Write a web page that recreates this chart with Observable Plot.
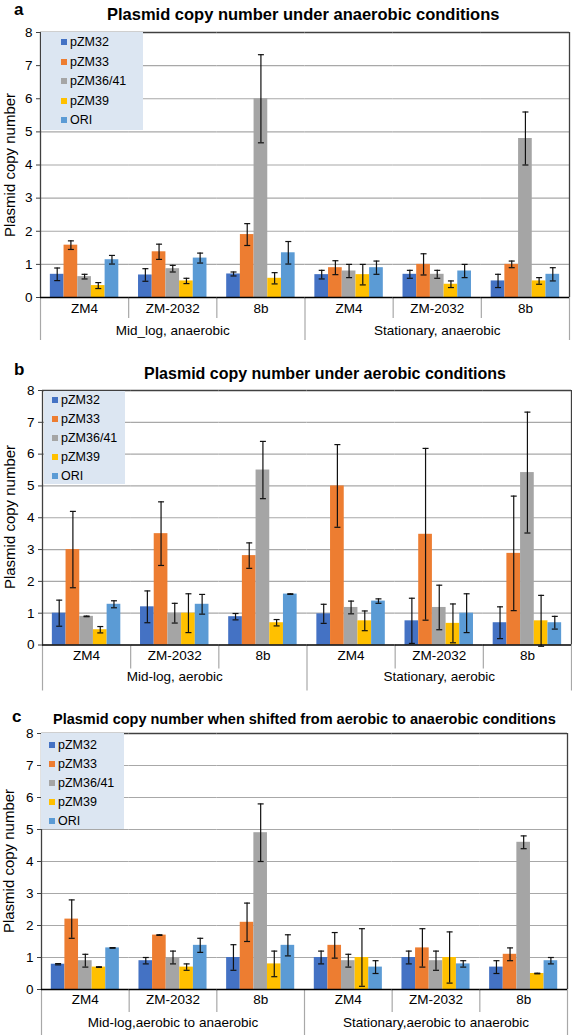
<!DOCTYPE html>
<html>
<head>
<meta charset="utf-8">
<script src="https://cdn.jsdelivr.net/npm/d3@7"></script>
<script src="https://cdn.jsdelivr.net/npm/@observablehq/plot@0.6"></script>
<style>
  body { margin: 0; background: #fff; }
  #root { position: relative; width: 572px; height: 1035px; overflow: hidden; font-family: 'Liberation Sans', Arial, Helvetica, sans-serif; color: #000; }
  .panel { position: absolute; left: 0; width: 572px; }
  .letter, .title { position: absolute; font-weight: bold; line-height: 1; white-space: nowrap; }
  .ylab { position: absolute; white-space: nowrap; line-height: 1; font-size: 15px; transform: translate(-50%, -50%) rotate(-90deg); }
  .legend { position: absolute; background: #dce6f2; }
  .legend .item { position: absolute; display: flex; align-items: center; white-space: nowrap; }
  .legend .sw { width: 6px; height: 6px; margin-right: 3px; }
  svg { position: absolute; left: 0; top: 0; }
</style>
</head>
<body>
<div id="root"></div>
<script>
// ---------- data ----------
const series = ["pZM32", "pZM33", "pZM36/41", "pZM39", "ORI"];
const strains = ["ZM4", "ZM-2032", "8b"];
const seriesColors = ["#4472c4", "#ed7d31", "#a5a5a5", "#ffc000", "#5b9bd5"];
const yTicks = [0, 1, 2, 3, 4, 5, 6, 7, 8];
const gridTicks = [1, 2, 3, 4, 5, 6, 7];
const yLabel = "Plasmid copy number";

const titleA = "Plasmid copy number under anaerobic conditions";
const groupsA = ["Mid_log, anaerobic", "Stationary, anaerobic"];
// rows: Mid ZM4, Mid ZM-2032, Mid 8b, Stat ZM4, Stat ZM-2032, Stat 8b ; columns: series
const meansA = [
  [0.70, 1.58, 0.63, 0.36, 1.14],
  [0.68, 1.38, 0.87, 0.50, 1.19],
  [0.71, 1.90, 6.00, 0.58, 1.35],
  [0.69, 0.90, 0.80, 0.69, 0.90],
  [0.70, 1.00, 0.70, 0.40, 0.80],
  [0.50, 1.00, 4.80, 0.50, 0.70]
];
const errorsA = [
  [0.19, 0.13, 0.07, 0.09, 0.13],
  [0.19, 0.23, 0.10, 0.08, 0.15],
  [0.06, 0.33, 1.33, 0.17, 0.34],
  [0.13, 0.21, 0.20, 0.31, 0.20],
  [0.12, 0.32, 0.12, 0.10, 0.20],
  [0.20, 0.10, 0.80, 0.10, 0.20]
];

const titleB = "Plasmid copy number under aerobic conditions";
const groupsB = ["Mid-log, aerobic", "Stationary, aerobic"];
const meansB = [
  [1.00, 3.00, 0.90, 0.48, 1.28],
  [1.20, 3.50, 1.00, 1.00, 1.28],
  [0.89, 2.81, 5.50, 0.70, 1.60],
  [0.98, 5.00, 1.18, 0.76, 1.38],
  [0.76, 3.48, 1.18, 0.68, 1.00],
  [0.70, 2.88, 5.42, 0.76, 0.70]
];
const errorsB = [
  [0.41, 1.20, 0.01, 0.10, 0.11],
  [0.50, 1.00, 0.31, 0.61, 0.31],
  [0.10, 0.40, 0.90, 0.10, 0.01],
  [0.30, 1.30, 0.20, 0.31, 0.07],
  [0.71, 2.70, 0.70, 0.61, 0.61],
  [0.50, 1.80, 1.90, 0.80, 0.20]
];

const titleC = "Plasmid copy number when shifted from aerobic to anaerobic conditions";
const groupsC = ["Mid-log,aerobic to anaerobic", "Stationary,aerobic to anaerobic"];
const meansC = [
  [0.79, 2.20, 0.90, 0.70, 1.30],
  [0.90, 1.70, 1.00, 0.70, 1.38],
  [1.00, 2.10, 4.90, 0.80, 1.38],
  [1.00, 1.38, 0.90, 1.00, 0.70],
  [1.00, 1.30, 0.90, 1.00, 0.80],
  [0.70, 1.10, 4.60, 0.50, 0.90]
];
const errorsC = [
  [0.02, 0.60, 0.20, 0.01, 0.01],
  [0.10, 0.01, 0.20, 0.10, 0.22],
  [0.40, 0.60, 0.90, 0.40, 0.33],
  [0.20, 0.40, 0.20, 0.90, 0.20],
  [0.20, 0.60, 0.30, 0.80, 0.10],
  [0.20, 0.20, 0.20, 0.01, 0.10]
];

// ---------- layout (styling only) ----------
const FONT = "'Liberation Sans', Arial, Helvetica, sans-serif";
const panels = [
  {letter: "a", title: titleA, groups: groupsA, means: meansA, errors: errorsA,
   top: 0, height: 345, mt: 32, mb: 48, ml: 40, mr: 3,
   labelDy: 15, groupDy: 37, subDepth: 21, grpDepth: 43, ylabX: 9,
   letterPos: [14, 0.6, 17], titlePos: [107, 6, 16.5],
   legend: {left: 41, top: 32, w: 102, h: 98, ix: 20, first: 10, step: 19.6}},
  {letter: "b", title: titleB, groups: groupsB, means: meansB, errors: errorsB,
   top: 350, height: 345, mt: 40, mb: 50.5, ml: 42, mr: 1,
   labelDy: 14.5, groupDy: 36, subDepth: 24, grpDepth: 46, ylabX: 9,
   letterPos: [14, 10.6, 17], titlePos: [144, 15.5, 16],
   legend: {left: 44, top: 41, w: 81, h: 93, ix: 8, first: 9, step: 19}},
  {letter: "c", title: titleC, groups: groupsC, means: meansC, errors: errorsC,
   top: 690, height: 345, mt: 43, mb: 46, ml: 41, mr: 5,
   labelDy: 14, groupDy: 37.5, subDepth: 23, grpDepth: 46, ylabX: 8,
   letterPos: [12, 17.9, 17], titlePos: [53, 21.7, 14.5],
   legend: {left: 41, top: 43, w: 83, h: 96, ix: 8, first: 12, step: 19}}
];

const cap = {draw(ctx, size) { const r = Math.sqrt(size / Math.PI); ctx.moveTo(-r, 0); ctx.lineTo(r, 0); }};

function buildPanel(p) {
  const box = document.createElement("div");
  box.className = "panel";
  box.style.top = p.top + "px";
  box.style.height = p.height + "px";

  const subs = [];
  p.groups.forEach((g, gi) => strains.forEach((s, si) => subs.push({key: g + "|" + s, group: g, strain: s, si})));
  const keys = subs.map(d => d.key);
  const rows = [];
  subs.forEach((sub, k) => series.forEach((name, j) =>
    rows.push({key: sub.key, series: name, value: p.means[k][j], err: p.errors[k][j]})));

  const unit = (p.height - p.mt - p.mb) / 8;
  const fw = (572 - p.ml - p.mr) / 6;
  const mid = () => series[2];
  const subD = p.subDepth / unit, grpD = p.grpDepth / unit;
  const first = subs.slice(0, 1), last = subs.slice(5);

  const chart = Plot.plot({
    width: 572, height: p.height,
    marginTop: p.mt, marginBottom: p.mb, marginLeft: p.ml, marginRight: p.mr,
    style: {fontFamily: FONT, fontSize: "13px", color: "#000", background: "transparent", overflow: "visible"},
    fx: {domain: keys, padding: 0, round: false, axis: null},
    x: {domain: series, paddingInner: 0, paddingOuter: 0.72, round: false, axis: null},
    y: {domain: [0, 8], axis: null},
    color: {domain: series, range: seriesColors},
    marks: [
      Plot.gridY(gridTicks, {stroke: "#a8a8a8", strokeOpacity: 1, strokeWidth: 1.2}),
      Plot.barY(rows, {fx: "key", x: "series", y: "value", fill: "series"}),
      Plot.ruleX(rows, {fx: "key", x: "series", y1: d => d.value - d.err, y2: d => d.value + d.err, stroke: "#111", strokeWidth: 1.2}),
      Plot.dot(rows, {fx: "key", x: "series", y: d => d.value + d.err, symbol: cap, r: 3, stroke: "#111", fill: "none", strokeWidth: 1.2}),
      Plot.dot(rows, {fx: "key", x: "series", y: d => d.value - d.err, symbol: cap, r: 3, stroke: "#111", fill: "none", strokeWidth: 1.2}),
      // category separators below the axis
      Plot.ruleX(subs, {fx: "key", x: mid, dx: -fw / 2, y1: 0, y2: d => d.si === 0 ? -grpD : -subD, stroke: "#a8a8a8", strokeWidth: 1.2}),
      Plot.ruleX(last, {fx: "key", x: mid, dx: fw / 2, y1: 0, y2: -grpD, stroke: "#a8a8a8", strokeWidth: 1.2}),
      // plot frame
      Plot.ruleY([8], {stroke: "#404040", strokeWidth: 1.3}),
      Plot.ruleX(first, {fx: "key", x: mid, dx: -fw / 2, y1: 0, y2: 8, stroke: "#404040", strokeWidth: 1.3}),
      Plot.ruleX(last, {fx: "key", x: mid, dx: fw / 2, y1: 0, y2: 8, stroke: "#404040", strokeWidth: 1.3}),
      Plot.ruleY([0], {stroke: "#000", strokeWidth: 1.4}),
      Plot.axisY(yTicks, {tickSize: 4, tickPadding: 4, fontSize: 13.5, label: null, stroke: "#404040"}),
      Plot.text(subs, {fx: "key", frameAnchor: "bottom", dy: p.labelDy, text: "strain", fontSize: 13.5}),
      Plot.text(subs.filter(d => d.si === 1), {fx: "key", frameAnchor: "bottom", dy: p.groupDy, text: "group", fontSize: 13.5})
    ]
  });
  box.appendChild(chart);

  const ylab = document.createElement("div");
  ylab.className = "ylab";
  ylab.textContent = yLabel;
  ylab.style.left = p.ylabX + "px";
  ylab.style.top = ((p.mt + p.height - p.mb) / 2) + "px";
  box.appendChild(ylab);

  const letter = document.createElement("div");
  letter.className = "letter";
  letter.textContent = p.letter;
  letter.style.left = p.letterPos[0] + "px";
  letter.style.top = p.letterPos[1] + "px";
  letter.style.fontSize = p.letterPos[2] + "px";
  box.appendChild(letter);

  const title = document.createElement("div");
  title.className = "title";
  title.textContent = p.title;
  title.style.left = p.titlePos[0] + "px";
  title.style.top = p.titlePos[1] + "px";
  title.style.fontSize = p.titlePos[2] + "px";
  box.appendChild(title);

  const lg = document.createElement("div");
  lg.className = "legend";
  const L = p.legend;
  Object.assign(lg.style, {left: L.left + "px", top: L.top + "px", width: L.w + "px", height: L.h + "px"});
  series.forEach((name, i) => {
    const it = document.createElement("div");
    it.className = "item";
    Object.assign(it.style, {left: L.ix + "px", top: (L.first + i * L.step - L.step / 2) + "px", height: L.step + "px", fontSize: "12.5px"});
    const sw = document.createElement("span");
    sw.className = "sw";
    sw.style.background = seriesColors[i];
    const tx = document.createElement("span");
    tx.textContent = name;
    it.appendChild(sw); it.appendChild(tx);
    lg.appendChild(it);
  });
  box.appendChild(lg);
  return box;
}

const root = document.getElementById("root");
panels.forEach(p => root.appendChild(buildPanel(p)));
</script>
</body>
</html>
